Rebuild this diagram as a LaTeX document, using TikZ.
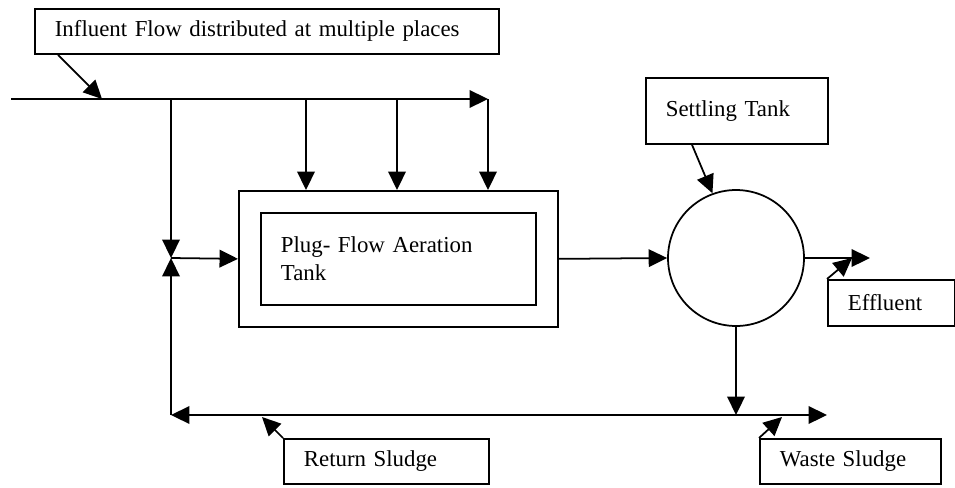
\documentclass[tikz,border=0pt]{standalone}
\usepackage{fontspec}
\setmainfont{Liberation Serif}
\usetikzlibrary{arrows.meta}
\tikzset{
  flow/.style={line width=1pt,-{Triangle[length=10.5pt,width=10pt]}},
  labelbox/.style={draw,line width=1pt,rectangle,anchor=north west,align=left,inner xsep=0.4cm,inner ysep=0pt},
  tankbox/.style={draw,line width=1pt,rectangle,anchor=north west,inner sep=0pt}
}

\begin{document}
\begin{tikzpicture}[x=0.02cm,y=-0.02cm,font=\fontsize{13}{16}\selectfont]
			%%%%% START %%%%%
			\useasboundingbox (0,0) rectangle (955,487);
			
			% text boxes
			\node[labelbox,text width=8.48cm,minimum height=0.9cm] (influent) at (34,8) {Influent Flow distributed at multiple places};
			\node[labelbox,text width=2.84cm,minimum height=1.32cm] (settling) at (645,77) {Settling Tank};
			\node[labelbox,text width=1.74cm,minimum height=0.92cm] (effluent) at (827,279) {Effluent};
			\node[labelbox,text width=3.3cm,minimum height=0.9cm] (return) at (283,438) {Return Sludge};
			\node[labelbox,text width=2.82cm,minimum height=0.9cm] (waste) at (759,438) {Waste Sludge};
			
			% tanks
			\node[tankbox,minimum width=6.38cm,minimum height=2.72cm] (aeration) at (238,190) {};
			\node[labelbox,text width=4.7cm,minimum height=1.84cm] (plug) at (260,212) {Plug- Flow Aeration\\Tank};
			\node[draw,line width=1pt,circle,minimum size=2.72cm,inner sep=0pt] (settler) at (736,258) {};
			
			% junctions
			\coordinate (inlet) at (11,99);
			\coordinate (feedend) at (488,99);
			\coordinate (j1) at (171,99);
			\coordinate (j2) at (306,99);
			\coordinate (j3) at (397,99);
			\coordinate (valve) at (171,258);
			\coordinate (retcorner) at (171,415);
			\coordinate (wastejoin) at (736,415);
			\coordinate (wasteend) at (827,415);
			\coordinate (effend) at (870,258);
			\coordinate (intip) at (102,99);
			\coordinate (efftip) at (852,258);
			\coordinate (rettip) at (262,417);
			\coordinate (wastetip) at (782,417);
			
			% influent feed
			\draw[flow] (inlet) -- (feedend);
			\draw[flow] (feedend) -- (feedend |- aeration.north);
			\draw[flow] (j2) -- (j2 |- aeration.north);
			\draw[flow] (j3) -- (j3 |- aeration.north);
			\draw[flow] (j1) -- (valve);
			\draw[flow] (retcorner) -- (valve);
			\draw[flow] (valve) -- (aeration.west);
			
			% settling and outlets
			\draw[flow] (aeration.east) -- (settler.west);
			\draw[flow] (settler.east) -- (effend);
			\draw[flow] (settler.south) -- (wastejoin);
			\draw[flow] (wastejoin) -- (wasteend);
			\draw[flow] (wastejoin) -- (retcorner);
			
			% callouts
			\draw[flow] ([xshift=0.48cm]influent.south west) -- (intip);
			\draw[flow] ([xshift=0.94cm]settling.south west) -- (settler.110);
			\draw[flow] (effluent.north west) -- (efftip);
			\draw[flow] (return.north west) -- (rettip);
			\draw[flow] (waste.north west) -- (wastetip);
			%%%%% END %%%%%
		\end{tikzpicture}
\end{document}
